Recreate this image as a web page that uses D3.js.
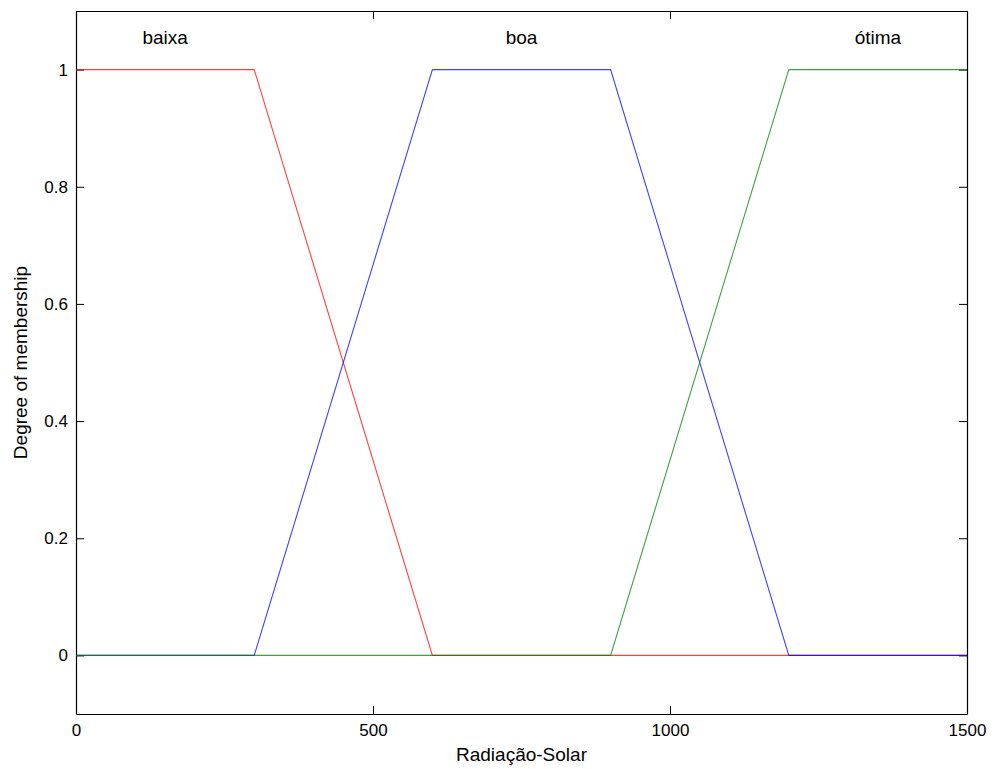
<!DOCTYPE html>
<html>
<head>
<meta charset="utf-8">
<script src="https://cdn.jsdelivr.net/npm/d3@7"></script>
<style>
  body { margin: 0; background: #fff; }
  svg { display: block; font-family: "Liberation Sans", Arial, sans-serif; }
</style>
</head>
<body>
<svg id="chart" width="995" height="769"></svg>
<script>
// Membership functions of "Radiação-Solar" (trapezoid break points)
const radiacaoX = [0, 300, 600, 900, 1200, 1500];
const baixa = [1, 1, 0, 0, 0, 0];
const boa   = [0, 0, 1, 1, 0, 0];
const otima = [0, 0, 0, 0, 1, 1];

const mfNames  = ["baixa", "boa", "ótima"];
const mfLabelX = [150, 750, 1350];
const mfColors = ["#ff0000", "#0000ff", "#008000"];

const xTicks = [0, 500, 1000, 1500];
const yTicks = [0, 0.2, 0.4, 0.6, 0.8, 1];

const svg = d3.select("#chart");
const margin = { left: 76, right: 28, top: 11, bottom: 55 };
const W = 995, H = 769;

const x = d3.scaleLinear().domain([0, 1500]).range([margin.left, W - margin.right]);
const y = d3.scaleLinear().domain([-0.1, 1.1]).range([H - margin.bottom, margin.top]);

const tickLen = 8;
const g = svg.append("g");

// bottom / top axes
g.append("g").attr("transform", `translate(0,${y(-0.1)})`)
  .call(d3.axisBottom(x).tickValues(xTicks).tickFormat(d3.format("d")).tickSizeInner(-tickLen).tickSizeOuter(0).tickPadding(10));
g.append("g").attr("transform", `translate(0,${y(1.1)})`)
  .call(d3.axisTop(x).tickValues(xTicks).tickFormat("").tickSizeInner(-tickLen).tickSizeOuter(0));
// left / right axes
g.append("g").attr("transform", `translate(${x(0)},0)`)
  .call(d3.axisLeft(y).tickValues(yTicks).tickFormat(d => d3.format("~g")(d)).tickSizeInner(-tickLen).tickSizeOuter(0).tickPadding(8));
g.append("g").attr("transform", `translate(${x(1500)},0)`)
  .call(d3.axisRight(y).tickValues(yTicks).tickFormat("").tickSizeInner(-tickLen).tickSizeOuter(0));

g.selectAll(".domain").attr("stroke", "#000").attr("stroke-width", 1.2);
g.selectAll(".tick line").attr("stroke", "#000");
g.selectAll(".tick text").attr("font-size", 17).attr("fill", "#000")
  .attr("font-family", "'Liberation Sans', Arial, sans-serif");

// membership curves
const line = d3.line().x(d => x(d[0])).y(d => y(d[1]));
[baixa, boa, otima].forEach((vals, i) => {
  svg.append("path")
    .datum(radiacaoX.map((v, k) => [v, vals[k]]))
    .attr("d", line)
    .attr("fill", "none")
    .attr("stroke", mfColors[i])
    .attr("stroke-opacity", 0.75)
    .attr("stroke-width", 1.1);
});

// MF names
mfNames.forEach((name, i) => {
  svg.append("text")
    .attr("x", x(mfLabelX[i]))
    .attr("y", y(1.043))
    .attr("text-anchor", "middle")
    .attr("font-size", 19)
    .text(name);
});

// axis titles
svg.append("text")
  .attr("x", x(750)).attr("y", 761)
  .attr("text-anchor", "middle").attr("font-size", 19)
  .text("Radiação-Solar");
svg.append("text")
  .attr("transform", `translate(27,${y(0.5)}) rotate(-90)`)
  .attr("text-anchor", "middle").attr("font-size", 19)
  .text("Degree of membership");
</script>
</body>
</html>
